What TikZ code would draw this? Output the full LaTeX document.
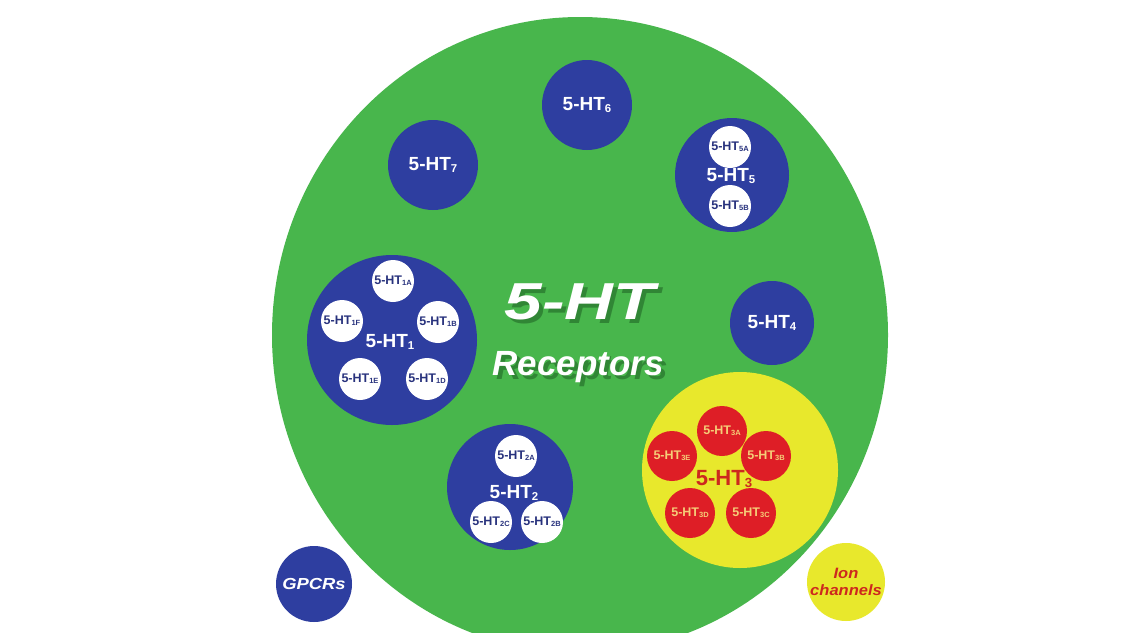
\documentclass[tikz,border=0pt]{standalone}
\usepackage{fontspec}
\setmainfont{Liberation Sans}
\usepackage{graphicx}
\definecolor{bggreen}{RGB}{72,182,76}
\definecolor{rblue}{RGB}{46,62,160}
\definecolor{ryellow}{RGB}{232,232,44}
\definecolor{rred}{RGB}{222,30,38}
\definecolor{subblue}{RGB}{40,50,125}
\definecolor{subred}{RGB}{245,205,120}
\definecolor{labred}{RGB}{205,40,30}
\definecolor{shadowgreen}{RGB}{30,95,35}
\newcommand\htr[1]{5-HT\raisebox{-0.2ex}{\scalebox{0.6}{#1}}}
\newcommand\fs[1]{\fontsize{#1}{#1}\selectfont}
\begin{document}
\begin{tikzpicture}[x=1pt,y=-1pt,
  ball/.style={circle, inner sep=0pt, minimum size=#1},
  blueball/.style={ball=#1, fill=rblue, text=white, font=\fs{19}\bfseries},
  whiteball/.style={ball=#1, fill=white, text=subblue, font=\fs{12.5}\bfseries},
  redball/.style={ball=#1, fill=rred, text=subred, font=\fs{12.5}\bfseries},
  yellowball/.style={ball=#1, fill=ryellow},
  grouplab/.style={inner sep=0pt, text=white, font=\fs{19}\bfseries},
  bigtext/.style={inner sep=0pt, font=\fs{#1}\bfseries\itshape}
]
\useasboundingbox (0,0) rectangle (1142,632);
\clip (0,0) rectangle (1142,632);
\fill[white] (0,0) rectangle (1142,632);
% main disc
\fill[bggreen] (580,335) ellipse [x radius=308, y radius=318];

% single receptors
\node[blueball=90pt] (ht6) at (587,105) {\htr{6}};
\node[blueball=90pt] (ht7) at (433,165) {\htr{7}};
\node[blueball=84pt] (ht4) at (772,323) {\htr{4}};

% 5-HT5
\node[blueball=114pt] (ht5) at (732,175) {};
\node[whiteball=42pt] (ht5a) at (730,147) {\htr{5A}};
\node[whiteball=42pt] (ht5b) at (730,206) {\htr{5B}};
\node[grouplab] (ht5l) at (731,176) {\htr{5}};

% 5-HT1
\node[blueball=170pt] (ht1) at (392,340) {};
\node[whiteball=42pt] (ht1a) at (393,281) {\htr{1A}};
\node[whiteball=42pt] (ht1b) at (438,322) {\htr{1B}};
\node[whiteball=42pt] (ht1f) at (342,321) {\htr{1F}};
\node[whiteball=42pt] (ht1e) at (360,379) {\htr{1E}};
\node[whiteball=42pt] (ht1d) at (427,379) {\htr{1D}};
\node[grouplab] (ht1l) at (390,342) {\htr{1}};

% 5-HT2
\node[blueball=126pt] (ht2) at (510,487) {};
\node[whiteball=42pt] (ht2a) at (516,456) {\htr{2A}};
\node[whiteball=42pt] (ht2c) at (491,522) {\htr{2C}};
\node[whiteball=42pt] (ht2b) at (542,522) {\htr{2B}};
\node[grouplab] (ht2l) at (514,493) {\htr{2}};

% 5-HT3
\node[yellowball=196pt] (ht3) at (740,470) {};
\node[redball=50pt] (ht3a) at (722,431) {\htr{3A}};
\node[redball=50pt] (ht3b) at (766,456) {\htr{3B}};
\node[redball=50pt] (ht3e) at (672,456) {\htr{3E}};
\node[redball=50pt] (ht3d) at (690,513) {\htr{3D}};
\node[redball=50pt] (ht3c) at (751,513) {\htr{3C}};
\node[inner sep=0pt, text=labred, font=\fs{22}\bfseries] (ht3l) at (724,479) {\htr{3}};

% centre title with soft shadow
\node[bigtext=52, text=shadowgreen, opacity=0.55, xscale=1.3] (titleshadow) at (584,306) {5-HT};
\node[bigtext=35, text=shadowgreen, opacity=0.55] (subtitleshadow) at (582,371) {Receptors};
\node[bigtext=52, text=white, xscale=1.3] (title) at (580,302) {5-HT};
\node[bigtext=35, text=white] (subtitle) at (578,367) {Receptors};

% legend
\node[ball=76pt, fill=rblue, text=white, font=\fs{16}\bfseries\itshape] (gpcr) at (314,584) {\scalebox{1.15}[1]{GPCRs}};
\node[ball=78pt, fill=ryellow, text=labred, font=\fs{15}\bfseries\itshape, align=center] (ion) at (846,582) {\scalebox{1.1}[1]{Ion}\\[2pt]\scalebox{1.1}[1]{channels}};
\end{tikzpicture}
\end{document}
